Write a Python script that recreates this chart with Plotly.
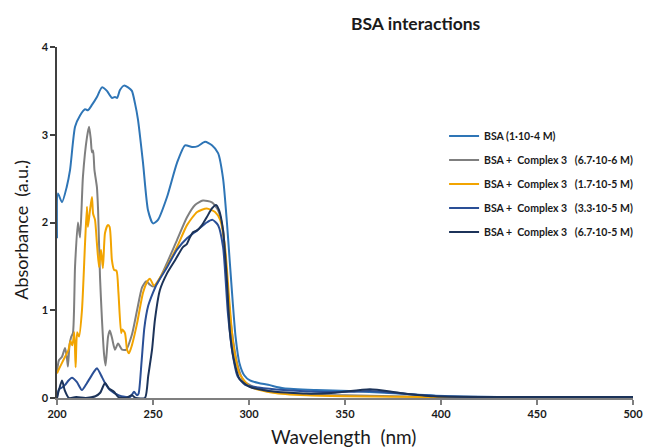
import plotly.graph_objects as go

# ---- data ----
bsa_nm = [200, 200.5, 202.6, 205, 206.8, 209.4, 212, 214.6, 216.1, 218.2, 220.8, 223.4, 226, 228.6,
          230.2, 231.3, 232.8, 234.9, 237, 239, 240.6, 242.2, 244.8, 247.4, 250, 252.6, 257.3, 262.5,
          266.7, 270.3, 273.4, 277.1, 280.7, 283.9, 286.5, 288.5, 290, 291.5, 293, 295, 297.5, 300.5,
          305, 310, 318, 335, 352, 378, 405, 450, 500]
bsa_abs = [1.82, 2.33, 2.23, 2.4, 2.6, 3.09, 3.22, 3.29, 3.28, 3.34, 3.43, 3.54, 3.5, 3.42,
           3.43, 3.42, 3.51, 3.56, 3.54, 3.5, 3.36, 3.17, 2.68, 2.14, 1.99, 2.03, 2.29, 2.68,
           2.88, 2.86, 2.87, 2.92, 2.88, 2.79, 2.5, 2.0, 1.55, 1.1, 0.7, 0.4, 0.26, 0.2,
           0.17, 0.15, 0.11, 0.09, 0.08, 0.05, 0.02, 0.01, 0.01]

c1_nm = [200, 201, 202.6, 204.2, 205.2, 205.7, 206.5, 207.3, 208.3, 209.4, 210.9, 212, 213.5, 215.6,
         216.7, 217.6, 218.2, 218.8, 219.5, 220.8, 221.4, 222.4, 223.4, 224.5, 225.3, 226.6, 227.5,
         228.6, 230.2, 231.8, 233.9, 236, 239, 241.7, 244.3, 246.5, 248.4, 250, 252, 257.3, 262.5,
         267.7, 271.9, 276, 280.7, 283.9, 286.5, 288.5, 291, 293.8, 297, 302, 312.5, 330, 350, 400,
         450, 500]
c1_abs = [0.3, 0.43, 0.47, 0.57, 0.45, 0.36, 0.6, 0.69, 0.74, 1.5, 2.0, 1.83, 2.52, 2.97,
          3.09, 2.95, 2.8, 2.82, 2.6, 2.4, 2.14, 1.38, 0.9, 0.5, 0.37, 0.7, 0.77,
          0.69, 0.55, 0.62, 0.55, 0.55, 0.72, 1.0, 1.26, 1.33, 1.29, 1.27, 1.3, 1.54, 1.8,
          2.06, 2.2, 2.25, 2.23, 2.14, 1.91, 1.34, 0.77, 0.4, 0.2, 0.13, 0.07, 0.04, 0.03, 0.01,
          0.005, 0.005]

c2_nm = [200, 201, 202.6, 204.2, 206, 207, 208, 209, 209.7, 210.5, 211.5, 213, 214.6, 215.6, 216.1,
         217.2, 218.2, 218.8, 219.8, 220.8, 221.9, 222.9, 223.9, 225, 226.4, 227.4, 228.6, 229.7,
         231, 232, 233.4, 234, 235.4, 236.5, 237.5, 239, 241.7, 244.8, 247.4, 248.4, 250.5, 255,
         262.5, 267.7, 273, 278, 282.3, 285, 287.5, 289.6, 291.7, 295, 300.5, 312.5, 330, 350, 400,
         500]
c2_abs = [0.28, 0.33, 0.4, 0.47, 0.55, 0.65, 0.6, 0.75, 0.35, 0.75, 0.7, 1.0, 1.76, 2.18, 1.95,
          2.14, 2.29, 2.1, 2.03, 1.76, 1.49, 1.69, 1.48, 1.88, 1.97, 1.95, 1.57, 1.46,
          1.45, 1.2, 0.74, 0.78, 0.74, 0.55, 0.51, 0.6, 0.85, 1.2, 1.34, 1.36, 1.28, 1.42,
          1.72, 1.97, 2.12, 2.16, 2.12, 2.03, 1.72, 1.15, 0.63, 0.28, 0.13, 0.06, 0.03, 0.02, 0.01,
          0.005]

c3_nm = [200, 201, 202.6, 204.2, 206, 207.8, 210.4, 213, 215.6, 219.3, 220.8, 223.4, 225, 227.6,
         232.3, 238, 240.1, 241.7, 242.5, 244, 245.5, 247.5, 250, 252, 257.3, 262.5, 267.7, 273,
         278, 281, 283.9, 286.5, 289, 291.5, 294, 298, 305, 318, 335, 352, 363, 380, 400, 450, 500]
c3_abs = [0.0, 0.1, 0.12, 0.15, 0.2, 0.23, 0.18, 0.09, 0.17, 0.3, 0.34, 0.24, 0.17, 0.09,
          0.03, 0.01, 0.07, 0.03, 0.05, 0.4, 0.8, 1.05, 1.2, 1.3, 1.49, 1.69, 1.82, 1.91,
          2.0, 2.03, 1.97, 1.72, 0.97, 0.5, 0.25, 0.15, 0.12, 0.09, 0.07, 0.07, 0.08, 0.05, 0.02, 0.01, 0.01]

c4_nm = [200, 201, 202.6, 204, 206.2, 210, 215, 220, 222.5, 225, 227, 229.7, 232, 236, 239, 241,
         245.8, 247.5, 249.5, 251, 253.6, 257.3, 261.5, 265.6, 267.5, 269, 270.8, 273, 275.5, 278,
         280.7, 282.8, 284.4, 286.5, 288.5, 290, 292, 295, 300, 310, 330, 345, 363, 378, 396, 450, 500]
c4_abs = [0.0, 0.09, 0.2, 0.09, 0.0, 0.01, 0.0, 0.02, 0.06, 0.17, 0.11, 0.07, 0.01, 0.0, 0.03, 0.0,
          0.0, 0.25, 0.55, 0.89, 1.23, 1.42, 1.57, 1.72, 1.75, 1.82, 1.89, 1.91, 1.97, 2.06,
          2.16, 2.2, 2.14, 1.91, 1.34, 0.77, 0.45, 0.22, 0.13, 0.08, 0.05, 0.06, 0.1, 0.06, 0.02, 0.01, 0.01]

names = ["BSA (1·10-4 M)",
         "BSA +  Complex 3   (6.7·10-6 M)",
         "BSA +  Complex 3   (1.7·10-5 M)",
         "BSA +  Complex 3   (3.3·10-5 M)",
         "BSA +  Complex 3   (6.7·10-5 M)"]
colors = ["#2e75b6", "#7f7f7f", "#f2a400", "#2a4f96", "#1c3359"]
xs = [bsa_nm, c1_nm, c2_nm, c3_nm, c4_nm]
ys = [bsa_abs, c1_abs, c2_abs, c3_abs, c4_abs]

x_ticks = [200, 250, 300, 350, 400, 450, 500]
y_ticks = [0, 1, 2, 3, 4]

FONT = "Lato, 'Open Sans', sans-serif"

fig = go.Figure()
for i in range(len(names)):
    fig.add_trace(go.Scatter(
        x=xs[i], y=ys[i], mode="lines", name=names[i].replace(" ", "\u00a0"),
        legendgroup="g%d" % i,
        line=dict(color=colors[i], width=2, shape="spline", smoothing=0.6),
    ))

# page body has an 8px margin, so the figure is sized to fit the 654x448 window
fig.update_layout(
    width=646, height=440,
    margin=dict(l=49, r=21, t=39, b=50),
    paper_bgcolor="white", plot_bgcolor="white",
    font=dict(family=FONT, color="#1a1a1a"),
    showlegend=True,
    legend=dict(x=0.672, y=0.788, xanchor="left", yanchor="top",
                font=dict(size=10.5, family=FONT, color="#1a1a1a", weight="bold"),
                traceorder="grouped", tracegroupgap=5, bgcolor="rgba(0,0,0,0)",
                itemwidth=30),
    xaxis=dict(range=[200, 500], tickvals=x_ticks, ticktext=[str(v) for v in x_ticks],
               showgrid=False, zeroline=False, showline=True, linecolor="#7f7f7f", linewidth=1.5,
               ticks="outside", ticklen=5, tickcolor="#7f7f7f", tickwidth=1.5,
               tickfont=dict(size=11, family=FONT, color="#1a1a1a", weight="bold")),
    yaxis=dict(range=[0, 4], tickvals=y_ticks, ticktext=[str(v) for v in y_ticks],
               showgrid=False, zeroline=False, showline=True, linecolor="#404040", linewidth=1.5,
               ticks="outside", ticklen=5, tickcolor="#404040", tickwidth=1.5,
               tickfont=dict(size=11, family=FONT, color="#1a1a1a", weight="bold")),
    annotations=[
        dict(text="<b>BSA interactions</b>", xref="paper", yref="paper", x=0.623, y=1.068,
             xanchor="center", yanchor="middle", showarrow=False,
             font=dict(size=17.5, family=FONT, color="#1a1a1a")),
        dict(text="Wavelength  (nm)", xref="paper", yref="paper", x=0.498, y=-0.11,
             xanchor="center", yanchor="middle", showarrow=False,
             font=dict(size=19, family=FONT, color="#1a1a1a")),
        dict(text="Absorbance  (a.u.)", xref="paper", yref="paper", x=-0.064, y=0.48,
             xanchor="center", yanchor="middle",
             textangle=-90, showarrow=False, font=dict(size=18, family=FONT, color="#1a1a1a")),
    ],
)

fig.write_html("out.html")
